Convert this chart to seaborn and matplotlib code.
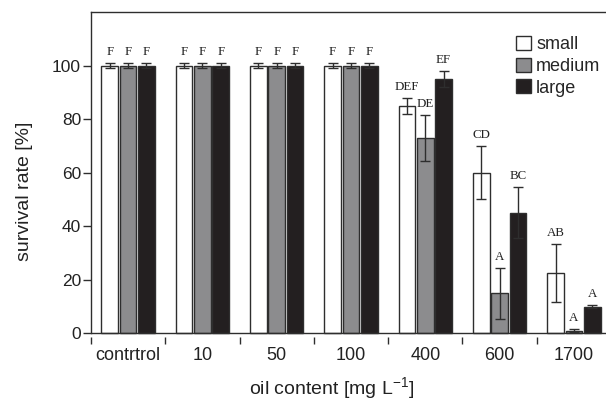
import numpy as np
import pandas as pd
import matplotlib
matplotlib.use("Agg")
import matplotlib.pyplot as plt
import seaborn as sns

categories = ['contrtrol', '10', '50', '100', '400', '600', '1700']
sizes = ['small', 'medium', 'large']

small_mean = [100, 100, 100, 100, 85, 60, 22.5]
small_err = [1, 1, 1, 1, 3, 10, 11]
medium_mean = [100, 100, 100, 100, 73, 15, 1]
medium_err = [1, 1, 1, 1, 8.5, 9.5, 0.5]
large_mean = [100, 100, 100, 100, 95, 45, 10]
large_err = [1, 1, 1, 1, 3, 9.5, 0.5]

small_letters = ['F', 'F', 'F', 'F', 'DEF', 'CD', 'AB']
medium_letters = ['F', 'F', 'F', 'F', 'DE', 'A', 'A']
large_letters = ['F', 'F', 'F', 'F', 'EF', 'BC', 'A']

means = [small_mean, medium_mean, large_mean]
errs = [small_err, medium_err, large_err]
letters = [small_letters, medium_letters, large_letters]

rows = []
for s, m in zip(sizes, means):
    for c, v in zip(categories, m):
        rows.append({'oil': c, 'size': s, 'rate': v})
df = pd.DataFrame(rows)

sns.set_style('ticks')
plt.rcParams['font.family'] = ['Liberation Sans', 'DejaVu Sans']
plt.rcParams['mathtext.fontset'] = 'custom'
plt.rcParams['mathtext.rm'] = 'Liberation Sans'
plt.rcParams['mathtext.it'] = 'Liberation Sans'

line_c = '#2e2e2e'
text_c = '#222222'
colors = ['#ffffff', '#8c8c8e', '#231f20']

fig = plt.figure(figsize=(6.06, 4.0), dpi=100)
ax = fig.add_axes([91 / 606, 1 - 336.5 / 400, 520 / 606, 324.5 / 400])

sns.barplot(data=df, x='oil', y='rate', hue='size', order=categories,
            hue_order=sizes, palette=colors, saturation=1,
            edgecolor=line_c, linewidth=1, width=0.74, gap=0.09,
            errorbar=None, ax=ax)

bar_conts = list(ax.containers)
for j, cont in enumerate(bar_conts):
    for i, bar in enumerate(cont):
        xc = bar.get_x() + bar.get_width() / 2
        h = bar.get_height()
        e = errs[j][i]
        ax.errorbar(xc, h, yerr=e, color=line_c, capsize=3.5, elinewidth=1,
                    capthick=1, zorder=4)
        ax.text(xc, h + e + 3.0, letters[j][i], ha='center', va='baseline',
                fontsize=9.3, family=['Liberation Serif', 'DejaVu Serif'],
                color=text_c, zorder=5)

handles, labels = ax.get_legend_handles_labels()
if ax.get_legend() is not None:
    ax.get_legend().remove()
for hnd, col in zip(handles, colors):
    hnd.set_facecolor(col)
    hnd.set_edgecolor(line_c)
    hnd.set_linewidth(1)
fig.legend(handles[:3], labels[:3], loc='upper left',
           bbox_to_anchor=(516 / 606, 1 - 36 / 400), frameon=False,
           borderpad=0, borderaxespad=0, handlelength=0.83, handleheight=0.8,
           handletextpad=0.28, labelspacing=0.25, fontsize=13)

ax.set_xlim(-0.5, 6.5)
ax.set_ylim(-1.2, 120)
ax.set_yticks(np.arange(0, 101, 20))
ax.set_xticks(np.arange(-0.5, 6.6, 1), minor=True)
ax.tick_params(axis='y', length=6, width=1, pad=1.2, labelsize=12.5,
               color=line_c, labelcolor=text_c)
ax.tick_params(axis='x', which='major', length=0, pad=7.5, labelsize=13,
               labelcolor=text_c)
ax.tick_params(axis='x', which='minor', length=4.8, width=1, color=line_c)

ax.axhline(0, color=line_c, lw=1, zorder=3)
ax.spines['bottom'].set_visible(False)
ax.spines['right'].set_visible(False)
ax.spines['left'].set_bounds(0, 120)
for sp in ['left', 'top']:
    ax.spines[sp].set_color(line_c)
    ax.spines[sp].set_linewidth(1)

ax.set_xlabel(r'oil content [mg L$^{\mathrm{-1}}$]', fontsize=14, color=text_c,
              va='baseline')
ax.set_ylabel('survival rate [%]', fontsize=14, color=text_c)
ax.xaxis.set_label_coords((332 - 91) / 520, (336.5 - 394.5) / 324.5)
ax.yaxis.set_label_coords((33 - 91) / 520, (336.5 - 191) / 324.5)

fig.savefig('out.png', dpi=100)
